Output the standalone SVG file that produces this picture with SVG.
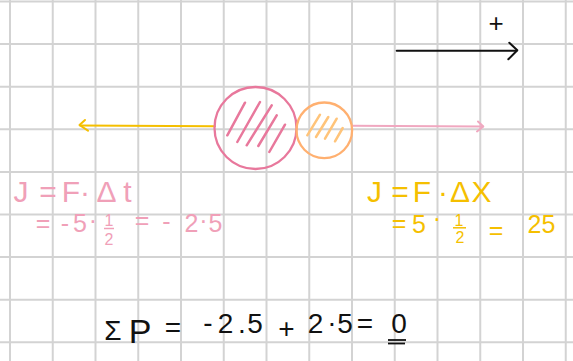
<svg xmlns="http://www.w3.org/2000/svg" width="573" height="361" viewBox="0 0 573 361">
<style>
.grid line{stroke:#d3d3d3;stroke-width:2}
.pk{fill:#f0a0b8}
.yl{fill:#f5bf00}
.bk{fill:#111}
text{font-family:"Liberation Sans","DejaVu Sans",sans-serif;text-anchor:middle}
.hp{stroke:#e8789c;stroke-width:2.5;stroke-linecap:round;fill:none}
.ho{stroke:#ffc47a;stroke-width:2.5;stroke-linecap:round;fill:none}
</style>
<rect width="573" height="361" fill="#ffffff"/>
<g class="grid" id="grid">
<line x1="10" y1="0" x2="10" y2="361"/><line x1="52.75" y1="0" x2="52.75" y2="361"/><line x1="95.5" y1="0" x2="95.5" y2="361"/><line x1="138.25" y1="0" x2="138.25" y2="361"/><line x1="181" y1="0" x2="181" y2="361"/><line x1="223.75" y1="0" x2="223.75" y2="361"/><line x1="266.5" y1="0" x2="266.5" y2="361"/><line x1="309.25" y1="0" x2="309.25" y2="361"/><line x1="352" y1="0" x2="352" y2="361"/><line x1="394.75" y1="0" x2="394.75" y2="361"/><line x1="437.5" y1="0" x2="437.5" y2="361"/><line x1="480.25" y1="0" x2="480.25" y2="361"/><line x1="523" y1="0" x2="523" y2="361"/><line x1="565.75" y1="0" x2="565.75" y2="361"/>
<line x1="0" y1="1.5" x2="573" y2="1.5"/><line x1="0" y1="44.1" x2="573" y2="44.1"/><line x1="0" y1="86.7" x2="573" y2="86.7"/><line x1="0" y1="129.3" x2="573" y2="129.3"/><line x1="0" y1="171.9" x2="573" y2="171.9"/><line x1="0" y1="214.5" x2="573" y2="214.5"/><line x1="0" y1="257.1" x2="573" y2="257.1"/><line x1="0" y1="299.7" x2="573" y2="299.7"/><line x1="0" y1="342.3" x2="573" y2="342.3"/>
</g>
<g id="connectors" fill="none" stroke-linecap="round" stroke-linejoin="round" stroke-width="2">
<g id="arrow-yellow" stroke="#f5bf00"><line x1="215" y1="126.3" x2="80" y2="125.5"/><polyline points="85,120 79.5,125 88,130.7"/></g>
<g id="arrow-pink" stroke="#f0a8c0"><line x1="352" y1="125.8" x2="483" y2="126.5"/><polyline points="478,121.5 483.3,126.5 477,131.5"/></g>
<g id="arrow-positive" stroke="#111"><line x1="396.7" y1="50.7" x2="516.5" y2="50.7"/><polyline points="509.3,42.7 517.3,50.3 508.3,59.3"/></g>
</g>
<g id="ball-big">
<circle cx="255.5" cy="128" r="41" fill="none" stroke="#e8789c" stroke-width="2.3"/>
<path class="hp" d="M227.3,135.3 L245,102.7 M237.3,142 L260,102 M246.7,145.3 L271.7,105.3 M258.3,146 L276.7,115.3 M269.3,152 L285,124.7"/>
</g>
<g id="ball-small">
<circle cx="324.3" cy="130.3" r="27.8" fill="none" stroke="#ffb070" stroke-width="2.3"/>
<path class="ho" d="M307.3,135.3 L320,114.7 M316,137 L328.3,117 M325,138.7 L336.7,118.7 M335,141.3 L342.7,128"/>
</g>
<g id="label-plus"><text class="bk" x="496" y="32" font-size="26">+</text></g>
<g id="impulse-pink" class="pk">
<text font-size="30" y="202"><tspan x="21">J</tspan><tspan x="48">=</tspan><tspan x="71">F</tspan><tspan x="85">·</tspan><tspan x="106.5">Δ</tspan><tspan x="127.5">t</tspan></text>
<text font-size="25" y="232"><tspan x="43">=</tspan><tspan x="65">-</tspan><tspan x="80">5</tspan><tspan x="93" y="229">·</tspan><tspan x="142" y="229">=</tspan><tspan x="166.5" y="230">-</tspan><tspan x="191.5" y="232">2</tspan><tspan x="203.5" y="229">·</tspan><tspan x="215.5" y="232">5</tspan></text>
<text font-size="16"><tspan x="109" y="226">1</tspan><tspan x="109" y="245">2</tspan></text>
<line x1="104" y1="228.5" x2="114" y2="228.5" stroke="#f0a0b8" stroke-width="1.5"/>
</g>
<g id="impulse-yellow" class="yl">
<text font-size="30" y="202"><tspan x="374.5">J</tspan><tspan x="400">=</tspan><tspan x="422">F</tspan><tspan x="443">·</tspan><tspan x="460">Δ</tspan><tspan x="481.5">X</tspan></text>
<text font-size="25"><tspan x="399" y="232">=</tspan><tspan x="419" y="233">5</tspan><tspan x="437" y="227">·</tspan><tspan x="496" y="239">=</tspan><tspan x="541.5" y="233">25</tspan></text>
<text font-size="16"><tspan x="459" y="226">1</tspan><tspan x="460" y="243">2</tspan></text>
<line x1="453" y1="227.8" x2="466" y2="227.8" stroke="#f5bf00" stroke-width="1.5"/>
</g>
<g id="momentum-sum" class="bk">
<text font-size="28"><tspan x="113" y="340">Σ</tspan><tspan x="140" y="343" font-size="34">P</tspan><tspan x="173" y="337">=</tspan><tspan x="208" y="332">-</tspan><tspan x="225.5" y="333">2</tspan><tspan x="242" y="333">.</tspan><tspan x="255" y="333">5</tspan><tspan x="286.5" y="338">+</tspan><tspan x="315.5" y="333">2</tspan><tspan x="332" y="332">·</tspan><tspan x="345" y="333">5</tspan><tspan x="365" y="333">=</tspan><tspan x="399" y="333">0</tspan></text>
<line x1="388" y1="340" x2="406" y2="340" stroke="#111" stroke-width="1.8"/>
<line x1="388" y1="343.5" x2="405" y2="343.5" stroke="#111" stroke-width="1.8"/>
</g>
</svg>
